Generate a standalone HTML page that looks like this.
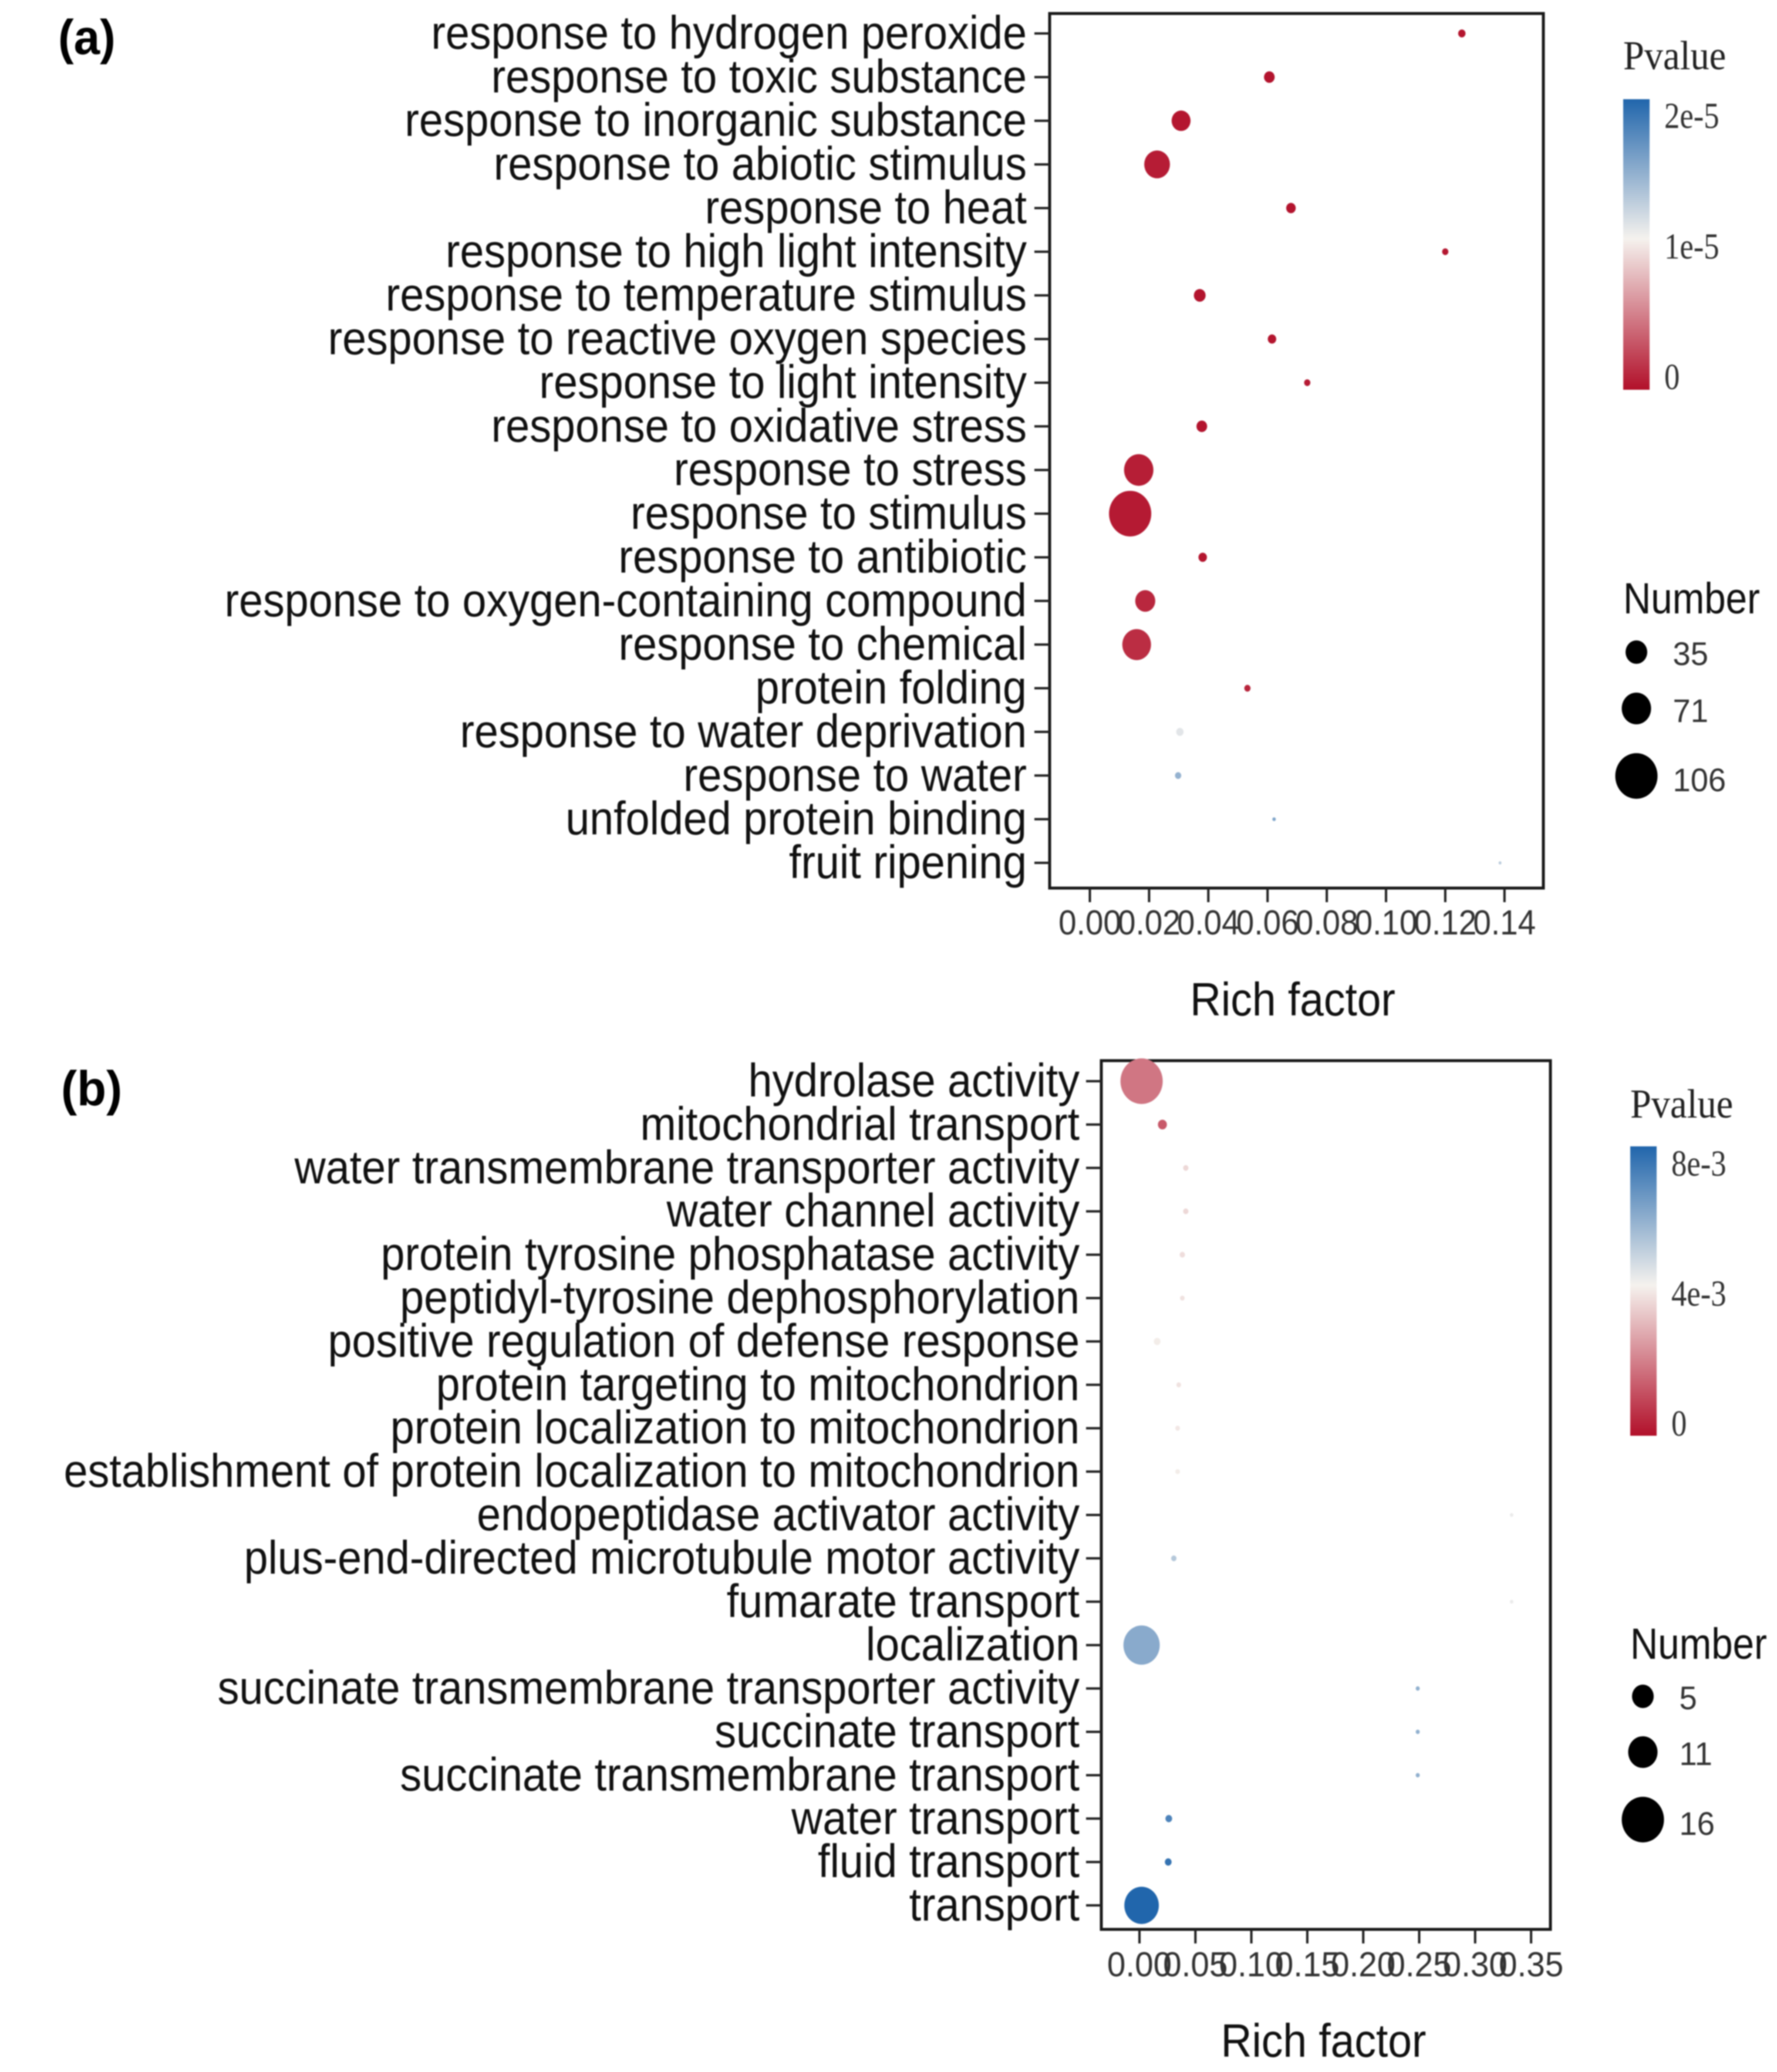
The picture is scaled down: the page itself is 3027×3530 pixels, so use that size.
<!DOCTYPE html>
<html lang="en">
<head>
<meta charset="utf-8">
<title>GO enrichment bubble charts</title>
<style>
html,body{margin:0;padding:0;background:#fff;width:3027px;height:3530px;overflow:hidden}
svg{display:block;filter:blur(1.1px)}
text{font-family:"Liberation Sans",sans-serif}
.serif{font-family:"Liberation Serif",serif}
</style>
</head>
<body>
<svg id="figure" xmlns="http://www.w3.org/2000/svg" width="3027" height="3530" viewBox="0 0 3027 3530">
  <defs>
    <linearGradient id="bar-gradient" x1="0" y1="1" x2="0" y2="0">
      <stop offset="0" stop-color="#b2102a"/>
      <stop offset="0.52" stop-color="#f5f2ee"/>
      <stop offset="1" stop-color="#2166ac"/>
    </linearGradient>
  </defs>
  <rect width="3027" height="3530" fill="#fff"/>
  <text transform="translate(99,92) scale(1,1.04)" font-size="80" font-weight="700" fill="#000">(a)</text>
  <text transform="translate(104,1883) scale(1.02,1.04)" font-size="80" font-weight="700" fill="#000">(b)</text>
  <g id="panel-a"></g>
  <g id="panel-b"></g>
</svg>
<script>
// Panel (a) data
const categoriesA = ["response to hydrogen peroxide","response to toxic substance","response to inorganic substance","response to abiotic stimulus","response to heat","response to high light intensity","response to temperature stimulus","response to reactive oxygen species","response to light intensity","response to oxidative stress","response to stress","response to stimulus","response to antibiotic","response to oxygen-containing compound","response to chemical","protein folding","response to water deprivation","response to water","unfolded protein binding","fruit ripening"];
const richFactorA = [0.1256,0.0606,0.0308,0.0227,0.0679,0.12,0.0371,0.0615,0.0734,0.0378,0.0165,0.0136,0.0381,0.0187,0.0158,0.0532,0.0304,0.0298,0.0622,0.1385];
const numberA = [9,15,30,54,13,7,17,11,7,15,71,106,11,32,68,7,9,7,2,1];
const pvalueA = [3e-7,2e-7,3e-7,6e-7,2e-7,4e-7,2e-7,3e-7,6e-7,2e-7,7e-7,5e-7,3e-7,1.1e-6,1.4e-6,1e-6,1.2e-5,1.6e-5,1.7e-5,1.4e-5];
const xTicksA = ["0.00","0.02","0.04","0.06","0.08","0.10","0.12","0.14"];
const pvalueTicksA = [2e-5,1e-5,0];
const pvalueTickLabelsA = ["2e-5","1e-5","0"];
const sizeLegendA = [35,71,106];

// Panel (b) data
const categoriesB = ["hydrolase activity","mitochondrial transport","water transmembrane transporter activity","water channel activity","protein tyrosine phosphatase activity","peptidyl-tyrosine dephosphorylation","positive regulation of defense response","protein targeting to mitochondrion","protein localization to mitochondrion","establishment of protein localization to mitochondrion","endopeptidase activator activity","plus-end-directed microtubule motor activity","fumarate transport","localization","succinate transmembrane transporter activity","succinate transport","succinate transmembrane transport","water transport","fluid transport","transport"];
const richFactorB = [0.0019,0.0205,0.0414,0.0414,0.0383,0.0383,0.0158,0.0351,0.0341,0.0341,0.3326,0.0307,0.3326,0.0019,0.2487,0.2487,0.2487,0.0262,0.0257,0.0019];
const numberB = [16,2.2,1.4,1.4,1.4,1.25,1.7,1.25,1.25,1.25,1,1.4,1,13.7,1.12,1.12,1.12,1.7,1.7,13];
const pvalueB = [1.95e-3,1.4e-3,3.8e-3,3.8e-3,3.9e-3,4e-3,4.2e-3,4e-3,4.1e-3,4.2e-3,4.5e-3,5.6e-3,4.5e-3,6.5e-3,6.3e-3,6.3e-3,6.3e-3,7.7e-3,8.2e-3,8.6e-3];
const xTicksB = ["0.00","0.05","0.10","0.15","0.20","0.25","0.30","0.35"];
const pvalueTicksB = [8e-3,4e-3,0];
const pvalueTickLabelsB = ["8e-3","4e-3","0"];
const sizeLegendB = [5,11,16];

const NS = "http://www.w3.org/2000/svg";
function hex(c){return [parseInt(c.slice(1,3),16),parseInt(c.slice(3,5),16),parseInt(c.slice(5,7),16)];}
const LOW = hex("#b2102a"), MID = hex("#f5f2ee"), HIGH = hex("#2166ac");
function mix(a,b,t){return "rgb("+a.map((v,i)=>Math.round(v+(b[i]-v)*t)).join(",")+")";}
function colorOf(p,mid){
  const t = p/mid;
  return t<=1 ? mix(LOW,MID,t) : mix(MID,HIGH,Math.min(1,t-1));
}
function make(parent,tag,attrs){
  const el = document.createElementNS(NS,tag);
  for(const k in attrs){el.setAttribute(k,attrs[k]);}
  parent.appendChild(el);
  return el;
}
function label(parent,str,x,y,size,sx,anchor,fill,serif){
  const el = make(parent,"text",{transform:"translate("+x+","+y+") scale("+sx+",1)","font-size":size,"text-anchor":anchor,fill:fill});
  if(serif){el.setAttribute("class","serif");}
  el.textContent = str;
  return el;
}
function drawPanel(root,cats,rich,nums,pvals,xTicks,pTicks,pLabels,legendNums,c){
  const x = v => c.x0 + v*c.xUnit;
  const y = i => c.y0 + i*c.yStep;
  const radius = n => {
    const a = c.sizeAnchors;
    if(n<=a[0][0]){return a[0][1];}
    for(let i=1;i<a.length;i++){
      if(n<=a[i][0]){return a[i-1][1]+(a[i][1]-a[i-1][1])*(n-a[i-1][0])/(a[i][0]-a[i-1][0]);}
    }
    return a[a.length-1][1];
  };
  const box = make(root,"rect",{x:c.left,y:c.top,width:c.right-c.left,height:c.bottom-c.top,fill:"#fff",stroke:"#1a1a1a","stroke-width":5});
  
  
  cats.forEach((name,i)=>{
    const tick = make(root,"line",{x1:c.left-26,x2:c.left,y1:y(i),y2:y(i),stroke:"#222","stroke-width":4});
    
    
    const t = label(root,name,c.labelRight,y(i)+26,80,0.92,"end","#111",false);
    
    
  });
  xTicks.forEach(s=>{
    const v = parseFloat(s);
    const tick = make(root,"line",{x1:x(v),x2:x(v),y1:c.bottom,y2:c.bottom+24,stroke:"#222","stroke-width":4});
    
    
    const t = label(root,s,x(v),c.xLabelY,59,c.xLabelScale,"middle","#333",false);
    
    
  });
  const title = label(root,"Rich factor",c.titleX,c.titleY,80,0.915,"middle","#111",false);
  
  
  rich.forEach((v,i)=>{
    const r = radius(nums[i]);
    const dot = make(root,"ellipse",{cx:x(v),cy:y(i),rx:r,ry:r*1.08,fill:colorOf(pvals[i],c.pMid)});
    
    
  });
  const pTitle = label(root,"Pvalue",c.legendX,c.pTitleY,70,0.92,"start","#222",true);
  
  
  const bar = make(root,"rect",{x:c.legendX,y:c.barTop,width:45,height:c.barBottom-c.barTop,fill:"url(#bar-gradient)"});
  
  
  pTicks.forEach((v,i)=>{
    const t = label(root,pLabels[i],c.legendX+70,c.pZeroY - v*c.pUnit,62,0.85,"start","#333",true);
    
    
  });
  const nTitle = label(root,"Number",c.legendX,c.nTitleY,74,0.885,"start","#111",false);
  
  
  legendNums.forEach((n,i)=>{
    const r = radius(n);
    const dot = make(root,"ellipse",{cx:c.legendDotX,cy:c.legendYs[i],rx:r,ry:r*1.08,fill:"#000"});
    
    
    const t = label(root,String(n),c.legendDotX+62,c.legendYs[i]+c.legendDy[i],56,0.97,"start","#333",false);
    
    
  });
}
drawPanel(document.getElementById("panel-a"),categoriesA,richFactorA,numberA,pvalueA,xTicksA,pvalueTicksA,pvalueTickLabelsA,sizeLegendA,{
  left:1788,right:2629,top:23,bottom:1513,labelRight:1749,x0:1856.5,xUnit:5045,y0:57,yStep:74.37,
  xLabelY:1592,xLabelScale:0.93,titleX:2202,titleY:1730,
  sizeAnchors:[[1,2.5],[35,18.5],[71,25],[106,36]],pMid:1.1e-5,
  legendX:2765,pTitleY:118,barTop:169,barBottom:664,pZeroY:663,pUnit:222.5/1e-5,
  nTitleY:1045,legendDotX:2787.5,legendYs:[1111,1207,1322],legendDy:[22,23,26]
});
drawPanel(document.getElementById("panel-b"),categoriesB,richFactorB,numberB,pvalueB,xTicksB,pvalueTicksB,pvalueTickLabelsB,sizeLegendB,{
  left:1876,right:2641,top:1807,bottom:3287,labelRight:1839,x0:1941,xUnit:1906,y0:1842,yStep:73.9,
  xLabelY:3367,xLabelScale:0.96,titleX:2254.5,titleY:3504,
  sizeAnchors:[[1,3],[5,18.5],[11,25],[16,36]],pMid:4.3e-3,
  legendX:2777,pTitleY:1904,barTop:1953,barBottom:2446,pZeroY:2446,pUnit:221.5/4e-3,
  nTitleY:2826,legendDotX:2798.5,legendYs:[2890,2985,3100],legendDy:[22,22,26]
});
</script>
</body>
</html>
